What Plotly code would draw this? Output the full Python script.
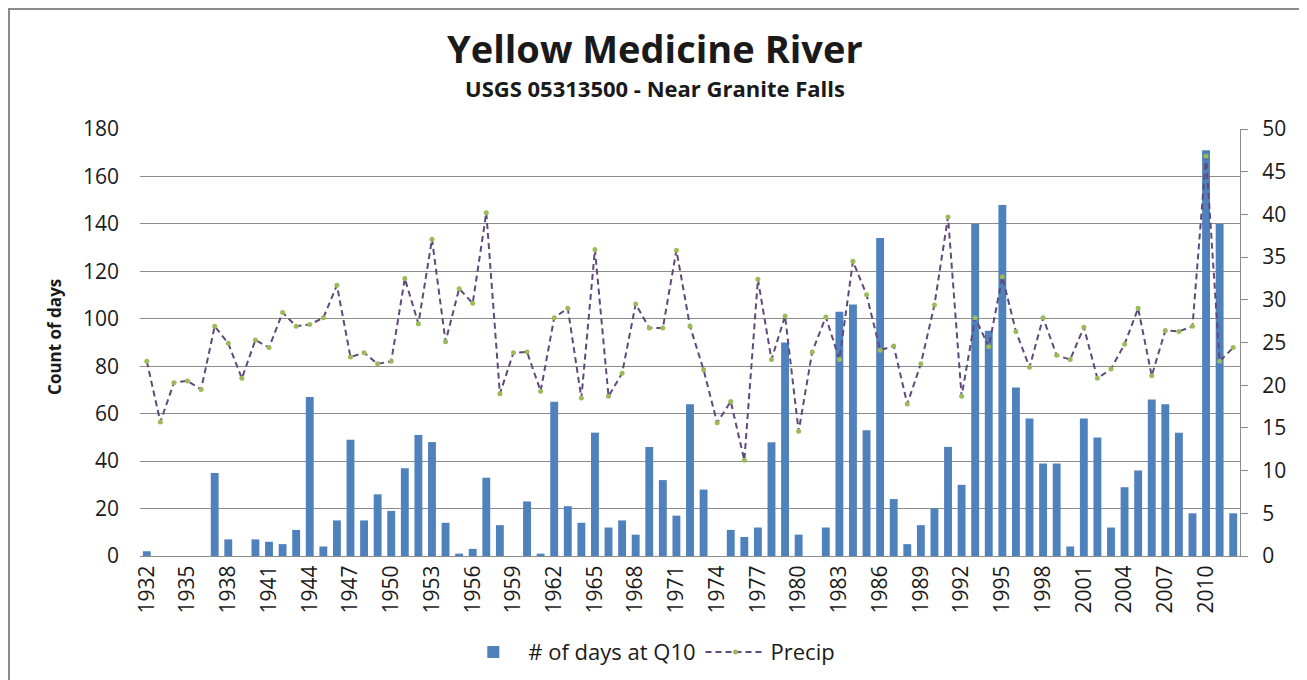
import plotly.graph_objects as go

# Data
years = list(range(1932, 2013))
days_q10 = [
    2, 0, 0, 0, 0, 35, 7, 0, 7, 6,
    5, 11, 67, 4, 15, 49, 15, 26, 19, 37,
    51, 48, 14, 1, 3, 33, 13, 0, 23, 1,
    65, 21, 14, 52, 12, 15, 9, 46, 32, 17,
    64, 28, 0, 11, 8, 12, 48, 90, 9, 0,
    12, 103, 106, 53, 134, 24, 5, 13, 20, 46,
    30, 140, 95, 148, 71, 58, 39, 39, 4, 58,
    50, 12, 29, 36, 66, 64, 52, 18, 171, 140,
    18,
]
precip = [
    22.8, 15.7, 20.3, 20.5, 19.5, 26.9, 24.9, 20.8, 25.3, 24.4,
    28.5, 26.9, 27.1, 27.9, 31.7, 23.3, 23.8, 22.5, 22.8, 32.5,
    27.2, 37.1, 25.1, 31.3, 29.6, 40.2, 19.0, 23.8, 23.9, 19.3,
    27.9, 29.0, 18.5, 35.9, 18.7, 21.4, 29.5, 26.7, 26.7, 35.8,
    26.9, 21.8, 15.6, 18.1, 11.2, 32.4, 23.0, 28.1, 14.6, 23.9,
    28.0, 23.0, 34.5, 30.6, 24.1, 24.6, 17.8, 22.5, 29.4, 39.7,
    18.7, 27.9, 24.5, 32.7, 26.3, 22.1, 27.9, 23.5, 23.0, 26.8,
    20.8, 21.9, 24.8, 29.0, 21.1, 26.4, 26.3, 26.9, 46.8, 22.8,
    24.4,
]
tick_years = list(range(1932, 2013, 3))

C_BAR = '#4f81bd'
C_LINE = '#5f497a'
C_MARK = '#9bbb59'
C_GRID = '#8c8c8c'
C_TEXT = '#1a1a1a'
FONT = '"Open Sans", sans-serif'

fig = go.Figure()
fig.add_trace(go.Bar(
    name='# of days at Q10', x=years, y=days_q10,
    marker=dict(color=C_BAR, line=dict(width=0)),
))
fig.add_trace(go.Scatter(
    name='Precip', x=years, y=precip, yaxis='y2',
    mode='lines+markers',
    line=dict(color=C_LINE, width=2, dash='6px,4px'),
    marker=dict(color=C_MARK, size=5),
))

# page body has an 8px margin, so the figure is 8px smaller than the window
fig.update_layout(
    width=1299, height=672,
    paper_bgcolor='white', plot_bgcolor='white',
    font=dict(family=FONT, color=C_TEXT, size=21),
    margin=dict(l=132, r=67, t=121, b=124, autoexpand=False),
    bargap=0.42,
    showlegend=True,
    legend=dict(orientation='h', x=0.463, xanchor='center', y=-0.225,
                yanchor='middle', itemwidth=60, font=dict(size=22)),
    xaxis=dict(range=[1931.5, 2012.5], tickvals=tick_years,
               ticktext=[str(y) for y in tick_years], tickangle=-90,
               showgrid=False, showline=True, linecolor=C_GRID,
               linewidth=1, ticks='', zeroline=False),
    yaxis=dict(range=[0, 180], dtick=20, gridcolor=C_GRID, gridwidth=1,
               showline=False, zeroline=False, ticks='',
               ticklabelstandoff=20),
    yaxis2=dict(range=[0, 50], dtick=5, overlaying='y', side='right',
                showgrid=False, showline=True, linecolor=C_GRID,
                ticks='outside', ticklen=7, tickcolor=C_GRID,
                ticklabelstandoff=10, zeroline=False),
    annotations=[
        dict(text='<b>Yellow Medicine River</b>', xref='paper', yref='paper',
             x=0.468, y=1.19, xanchor='center', yanchor='middle',
             showarrow=False, font=dict(size=38)),
        dict(text='<b>USGS 05313500 - Near Granite Falls</b>', xref='paper',
             yref='paper', x=0.468, y=1.096, xanchor='center',
             yanchor='middle', showarrow=False, font=dict(size=22)),
        dict(text='<b>Count of days</b>', xref='paper', yref='paper',
             x=-0.0773, y=0.513, xanchor='center', yanchor='middle',
             textangle=-90, showarrow=False, font=dict(size=17)),
    ],
    shapes=[
        dict(type='rect', xref='paper', yref='paper',
             x0=-0.1191, x1=1.0573, y0=-0.31, y1=1.281,
             line=dict(color='#8a8a8a', width=2)),
    ],
)

fig.write_html('out.html')
